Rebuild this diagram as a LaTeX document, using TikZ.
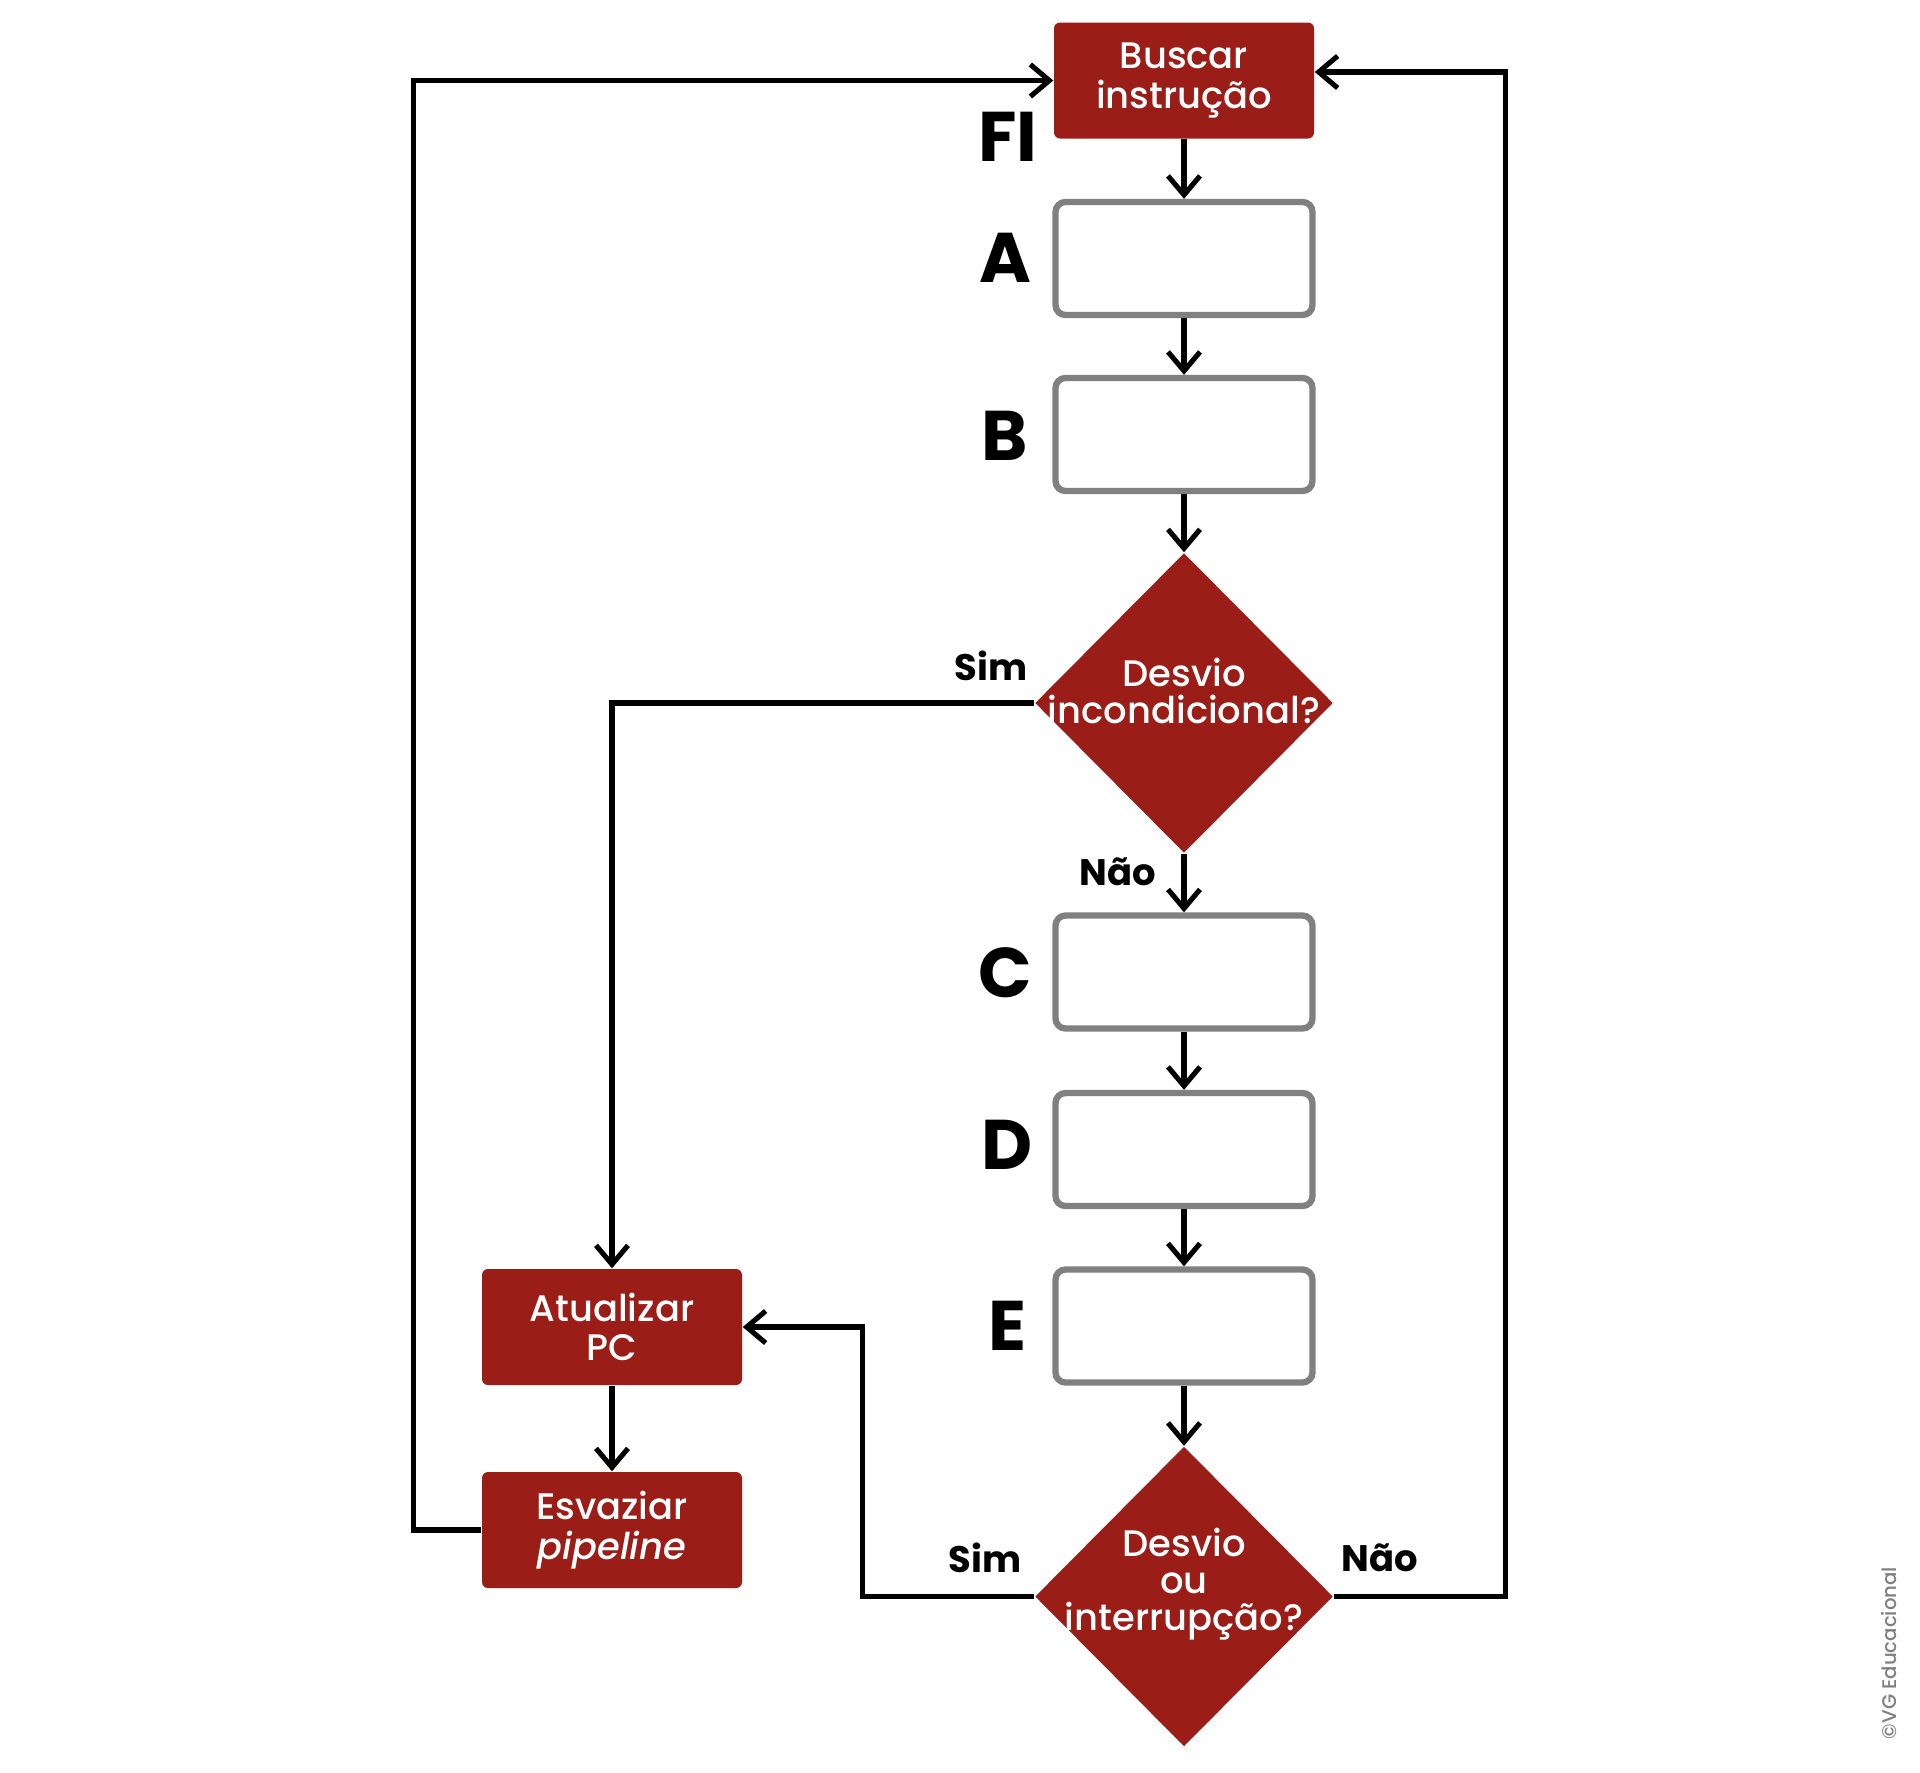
\documentclass[tikz,border=0pt]{standalone}
\usepackage{fontspec}
\setmainfont{Poppins}[UprightFont={* Medium}, ItalicFont={* Medium Italic}, BoldFont={* Bold}, BoldItalicFont={* Bold Italic}]
\usetikzlibrary{shapes.geometric, arrows.meta}

\definecolor{vgred}{RGB}{154,30,23}
\definecolor{vggray}{RGB}{128,128,128}

\tikzset{
    redbox/.style={rectangle, rounded corners=0.6mm, fill=vgred, text=white, minimum width=2.6cm, minimum height=1.16cm, align=center, font=\fontsize{10.5}{11.2}\selectfont},
    stagebox/.style={rectangle, rounded corners=1mm, draw=vggray, line width=1.8pt, fill=white, minimum width=2.57cm, minimum height=1.13cm},
    decision/.style={diamond, fill=vgred, minimum width=2.98cm, minimum height=3cm, inner sep=0pt},
    decisiontext/.style={text=white, align=center, font=\fontsize{10.5}{10.5}\selectfont},
    stagelabel/.style={font=\fontsize{20}{24}\selectfont\bfseries},
    answer/.style={font=\fontsize{10.5}{12}\selectfont\bfseries},
    flow/.style={-{Straight Barb[length=1.9mm, width=3.2mm]}, line width=1.45pt}
}

\begin{document}
\begin{tikzpicture}
    \useasboundingbox (0, 0) rectangle (19.2, -17.72);

    \node[redbox] (buscar) at (11.84, -0.805) {Buscar\\instrução};
    \node[stagebox] (a) at (11.84, -2.585) {};
    \node[stagebox] (b) at (11.84, -4.345) {};
    \node[decision] (desvio1) at (11.84, -7.03) {};
    \node[decisiontext] at ([yshift=1.2mm]desvio1.center) {Desvio\\incondicional?};
    \node[stagebox] (c) at (11.84, -9.72) {};
    \node[stagebox] (d) at (11.84, -11.495) {};
    \node[stagebox] (e) at (11.84, -13.26) {};
    \node[decision] (desvio2) at (11.84, -15.965) {};
    \node[decisiontext] at ([yshift=1.2mm]desvio2.center) {Desvio\\ou\\interrupção?};
    \node[redbox] (atualizar) at (6.12, -13.27) {Atualizar\\PC};
    \node[redbox] (esvaziar) at (6.12, -15.30) {Esvaziar\\\textit{pipeline}};

    \node[stagelabel] (lblfi) at (10.08, -1.37) {FI};
    \node[stagelabel] (lbla) at (10.05, -2.58) {A};
    \node[stagelabel] (lblb) at (10.05, -4.36) {B};
    \node[stagelabel] (lblc) at (10.05, -9.73) {C};
    \node[stagelabel] (lbld) at (10.07, -11.45) {D};
    \node[stagelabel] (lble) at (10.07, -13.26) {E};

    \node[answer] (sim1) at (9.91, -6.66) {Sim};
    \node[answer] (nao1) at (11.18, -8.72) {Não};
    \node[answer] (sim2) at (9.85, -15.58) {Sim};
    \node[answer] (nao2) at (13.80, -15.58) {Não};

    \node[text=vggray, rotate=90, font=\fontsize{5.6}{6}\selectfont] (credit) at (18.89, -16.53) {©VG Educacional};

    \draw[flow] (buscar) -- (a);
    \draw[flow] (a) -- (b);
    \draw[flow] (b) -- (desvio1);
    \draw[flow] (desvio1) -- (c);
    \draw[flow] (c) -- (d);
    \draw[flow] (d) -- (e);
    \draw[flow] (e) -- (desvio2);
    \draw[flow] (desvio1.west) -| (atualizar.north);
    \draw[flow] (atualizar) -- (esvaziar);
    \draw[flow] (desvio2.west) -- ++(-1.72, 0) |- (atualizar.east);
    \draw[flow] (desvio2.east) -- ++(1.72, 0) |- ([yshift=0.85mm]buscar.east);
    \draw[flow] (esvaziar.west) -- ++(-0.68, 0) |- (buscar.west);
\end{tikzpicture}
\end{document}
